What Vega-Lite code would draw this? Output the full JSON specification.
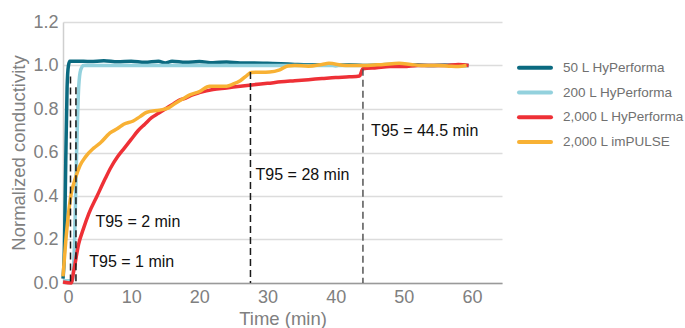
{
  "$schema": "https://vega.github.io/schema/vega-lite/v6.json",
  "width": 439,
  "height": 261,
  "autosize": {"type": "none"},
  "padding": {"left": 63, "top": 22, "right": 183, "bottom": 45},
  "background": "white",
  "config": {
    "font": "Liberation Sans",
    "view": {"stroke": null},
    "axis": {"labelFont": "Liberation Sans", "titleFont": "Liberation Sans", "labelColor": "#808080", "titleColor": "#808080", "labelFontSize": 18, "titleFontSize": 18.5, "titleFontWeight": "normal", "ticks": false}
  },
  "datasets": {
    "curves": [
      {"s": "50 L HyPerforma", "t": 0, "v": 0.02},
      {"s": "50 L HyPerforma", "t": 0.2, "v": 0.15},
      {"s": "50 L HyPerforma", "t": 0.4, "v": 0.55},
      {"s": "50 L HyPerforma", "t": 0.6, "v": 0.9},
      {"s": "50 L HyPerforma", "t": 0.8, "v": 1.0},
      {"s": "50 L HyPerforma", "t": 1.0, "v": 1.02},
      {"s": "50 L HyPerforma", "t": 2, "v": 1.02},
      {"s": "50 L HyPerforma", "t": 4, "v": 1.018},
      {"s": "50 L HyPerforma", "t": 6, "v": 1.022},
      {"s": "50 L HyPerforma", "t": 8, "v": 1.017},
      {"s": "50 L HyPerforma", "t": 10, "v": 1.02},
      {"s": "50 L HyPerforma", "t": 12, "v": 1.015},
      {"s": "50 L HyPerforma", "t": 14, "v": 1.02},
      {"s": "50 L HyPerforma", "t": 15, "v": 1.012},
      {"s": "50 L HyPerforma", "t": 16, "v": 1.02},
      {"s": "50 L HyPerforma", "t": 18, "v": 1.015},
      {"s": "50 L HyPerforma", "t": 20, "v": 1.018},
      {"s": "50 L HyPerforma", "t": 22, "v": 1.013},
      {"s": "50 L HyPerforma", "t": 24, "v": 1.016},
      {"s": "50 L HyPerforma", "t": 26, "v": 1.012},
      {"s": "50 L HyPerforma", "t": 28, "v": 1.012},
      {"s": "50 L HyPerforma", "t": 30, "v": 1.01},
      {"s": "50 L HyPerforma", "t": 32, "v": 1.008},
      {"s": "50 L HyPerforma", "t": 34, "v": 1.005},
      {"s": "50 L HyPerforma", "t": 36, "v": 1.003},
      {"s": "50 L HyPerforma", "t": 38, "v": 1.004},
      {"s": "50 L HyPerforma", "t": 40, "v": 1.0},
      {"s": "50 L HyPerforma", "t": 42, "v": 1.004},
      {"s": "50 L HyPerforma", "t": 44, "v": 1.0},
      {"s": "50 L HyPerforma", "t": 46, "v": 1.002},
      {"s": "50 L HyPerforma", "t": 48, "v": 1.005},
      {"s": "50 L HyPerforma", "t": 50, "v": 1.0},
      {"s": "50 L HyPerforma", "t": 52, "v": 1.003},
      {"s": "50 L HyPerforma", "t": 54, "v": 1.0},
      {"s": "50 L HyPerforma", "t": 56, "v": 1.002},
      {"s": "50 L HyPerforma", "t": 58, "v": 1.0},
      {"s": "50 L HyPerforma", "t": 59.5, "v": 1.0},
      {"s": "200 L HyPerforma", "t": 0, "v": 0.01},
      {"s": "200 L HyPerforma", "t": 1.4, "v": 0.01},
      {"s": "200 L HyPerforma", "t": 1.7, "v": 0.2},
      {"s": "200 L HyPerforma", "t": 2.0, "v": 0.6},
      {"s": "200 L HyPerforma", "t": 2.3, "v": 0.9},
      {"s": "200 L HyPerforma", "t": 2.6, "v": 0.98},
      {"s": "200 L HyPerforma", "t": 3, "v": 1.0},
      {"s": "200 L HyPerforma", "t": 10, "v": 1.0},
      {"s": "200 L HyPerforma", "t": 20, "v": 1.0},
      {"s": "200 L HyPerforma", "t": 30, "v": 1.0},
      {"s": "200 L HyPerforma", "t": 40, "v": 1.0},
      {"s": "200 L HyPerforma", "t": 50, "v": 1.0},
      {"s": "200 L HyPerforma", "t": 59.5, "v": 1.0},
      {"s": "2,000 L HyPerforma", "t": 0, "v": 0.005},
      {"s": "2,000 L HyPerforma", "t": 1.2, "v": 0.0},
      {"s": "2,000 L HyPerforma", "t": 1.6, "v": 0.06},
      {"s": "2,000 L HyPerforma", "t": 2.3, "v": 0.18},
      {"s": "2,000 L HyPerforma", "t": 3, "v": 0.25},
      {"s": "2,000 L HyPerforma", "t": 3.8, "v": 0.32},
      {"s": "2,000 L HyPerforma", "t": 5, "v": 0.4},
      {"s": "2,000 L HyPerforma", "t": 6.2, "v": 0.48},
      {"s": "2,000 L HyPerforma", "t": 7, "v": 0.53},
      {"s": "2,000 L HyPerforma", "t": 8, "v": 0.58},
      {"s": "2,000 L HyPerforma", "t": 9, "v": 0.62},
      {"s": "2,000 L HyPerforma", "t": 10, "v": 0.66},
      {"s": "2,000 L HyPerforma", "t": 11, "v": 0.7},
      {"s": "2,000 L HyPerforma", "t": 12, "v": 0.73},
      {"s": "2,000 L HyPerforma", "t": 13, "v": 0.76},
      {"s": "2,000 L HyPerforma", "t": 14, "v": 0.78},
      {"s": "2,000 L HyPerforma", "t": 15, "v": 0.8},
      {"s": "2,000 L HyPerforma", "t": 16, "v": 0.82},
      {"s": "2,000 L HyPerforma", "t": 17, "v": 0.84},
      {"s": "2,000 L HyPerforma", "t": 18, "v": 0.85},
      {"s": "2,000 L HyPerforma", "t": 19, "v": 0.865},
      {"s": "2,000 L HyPerforma", "t": 20, "v": 0.875},
      {"s": "2,000 L HyPerforma", "t": 22, "v": 0.89},
      {"s": "2,000 L HyPerforma", "t": 24, "v": 0.897},
      {"s": "2,000 L HyPerforma", "t": 26, "v": 0.905},
      {"s": "2,000 L HyPerforma", "t": 28, "v": 0.912},
      {"s": "2,000 L HyPerforma", "t": 30, "v": 0.918},
      {"s": "2,000 L HyPerforma", "t": 32, "v": 0.925},
      {"s": "2,000 L HyPerforma", "t": 34, "v": 0.93},
      {"s": "2,000 L HyPerforma", "t": 36, "v": 0.935},
      {"s": "2,000 L HyPerforma", "t": 38, "v": 0.94},
      {"s": "2,000 L HyPerforma", "t": 40, "v": 0.945},
      {"s": "2,000 L HyPerforma", "t": 42, "v": 0.948},
      {"s": "2,000 L HyPerforma", "t": 43.5, "v": 0.952},
      {"s": "2,000 L HyPerforma", "t": 44, "v": 0.985},
      {"s": "2,000 L HyPerforma", "t": 46, "v": 0.99},
      {"s": "2,000 L HyPerforma", "t": 48, "v": 0.995},
      {"s": "2,000 L HyPerforma", "t": 50, "v": 0.995},
      {"s": "2,000 L HyPerforma", "t": 52, "v": 1.0},
      {"s": "2,000 L HyPerforma", "t": 54, "v": 1.0},
      {"s": "2,000 L HyPerforma", "t": 56, "v": 1.0},
      {"s": "2,000 L HyPerforma", "t": 58, "v": 1.005},
      {"s": "2,000 L HyPerforma", "t": 59.5, "v": 1.0},
      {"s": "2,000 L imPULSE", "t": 0, "v": 0.03},
      {"s": "2,000 L imPULSE", "t": 0.4, "v": 0.19},
      {"s": "2,000 L imPULSE", "t": 0.85, "v": 0.33},
      {"s": "2,000 L imPULSE", "t": 1.2, "v": 0.41},
      {"s": "2,000 L imPULSE", "t": 1.8, "v": 0.48},
      {"s": "2,000 L imPULSE", "t": 2.5, "v": 0.54},
      {"s": "2,000 L imPULSE", "t": 3.3, "v": 0.58},
      {"s": "2,000 L imPULSE", "t": 4.5, "v": 0.62},
      {"s": "2,000 L imPULSE", "t": 5.5, "v": 0.645},
      {"s": "2,000 L imPULSE", "t": 6.9, "v": 0.69},
      {"s": "2,000 L imPULSE", "t": 8, "v": 0.71},
      {"s": "2,000 L imPULSE", "t": 8.9, "v": 0.73},
      {"s": "2,000 L imPULSE", "t": 10.3, "v": 0.745},
      {"s": "2,000 L imPULSE", "t": 11.3, "v": 0.765},
      {"s": "2,000 L imPULSE", "t": 12.3, "v": 0.785},
      {"s": "2,000 L imPULSE", "t": 14.2, "v": 0.795},
      {"s": "2,000 L imPULSE", "t": 15.5, "v": 0.805},
      {"s": "2,000 L imPULSE", "t": 16.2, "v": 0.82},
      {"s": "2,000 L imPULSE", "t": 17.5, "v": 0.845},
      {"s": "2,000 L imPULSE", "t": 18.6, "v": 0.865},
      {"s": "2,000 L imPULSE", "t": 20, "v": 0.88},
      {"s": "2,000 L imPULSE", "t": 21.5, "v": 0.905},
      {"s": "2,000 L imPULSE", "t": 23, "v": 0.905},
      {"s": "2,000 L imPULSE", "t": 24, "v": 0.905},
      {"s": "2,000 L imPULSE", "t": 25, "v": 0.915},
      {"s": "2,000 L imPULSE", "t": 26, "v": 0.93},
      {"s": "2,000 L imPULSE", "t": 27, "v": 0.955},
      {"s": "2,000 L imPULSE", "t": 27.6, "v": 0.968},
      {"s": "2,000 L imPULSE", "t": 30.3, "v": 0.97},
      {"s": "2,000 L imPULSE", "t": 31.8, "v": 0.98},
      {"s": "2,000 L imPULSE", "t": 33, "v": 0.998},
      {"s": "2,000 L imPULSE", "t": 34, "v": 1.0},
      {"s": "2,000 L imPULSE", "t": 36, "v": 0.997},
      {"s": "2,000 L imPULSE", "t": 38, "v": 1.005},
      {"s": "2,000 L imPULSE", "t": 39, "v": 1.01},
      {"s": "2,000 L imPULSE", "t": 41.5, "v": 1.0},
      {"s": "2,000 L imPULSE", "t": 44.4, "v": 1.0},
      {"s": "2,000 L imPULSE", "t": 47, "v": 1.005},
      {"s": "2,000 L imPULSE", "t": 49.3, "v": 1.01},
      {"s": "2,000 L imPULSE", "t": 51, "v": 1.005},
      {"s": "2,000 L imPULSE", "t": 52.6, "v": 1.0},
      {"s": "2,000 L imPULSE", "t": 55, "v": 1.0},
      {"s": "2,000 L imPULSE", "t": 56.6, "v": 0.997},
      {"s": "2,000 L imPULSE", "t": 58, "v": 0.995},
      {"s": "2,000 L imPULSE", "t": 59.2, "v": 1.0}
    ],
    "rules": [
      {"t": 1.1, "top": 0.95, "c": "dark"},
      {"t": 1.9, "top": 0.9, "c": "dark"},
      {"t": 27.5, "top": 0.97, "c": "dark"},
      {"t": 44, "top": 0.985, "c": "grey"}
    ],
    "labels": [
      {"t": 4.75, "v": 0.28, "label": "T95 = 2 min"},
      {"t": 3.85, "v": 0.097, "label": "T95 = 1 min"},
      {"t": 28.25, "v": 0.497, "label": "T95 = 28 min"},
      {"t": 45.2, "v": 0.7, "label": "T95 = 44.5 min"}
    ]
  },
  "layer": [
    {
      "data": {"name": "curves"},
      "mark": {"type": "line", "strokeWidth": 3.5, "interpolate": "monotone"},
      "encoding": {
        "x": {"field": "t", "type": "quantitative",
          "scale": {"domain": [0, 64.4], "nice": false, "zero": false},
          "axis": {"values": [0, 10, 20, 30, 40, 50, 60], "grid": false, "domainColor": "#9a9a9a", "domainWidth": 1.5, "labelPadding": 5, "title": "Time (min)", "titlePadding": 3}},
        "y": {"field": "v", "type": "quantitative",
          "scale": {"domain": [0, 1.2], "nice": false},
          "axis": {"values": [0, 0.2, 0.4, 0.6, 0.8, 1.0, 1.2], "format": ".1f", "grid": true, "gridColor": "#dcdcdc", "gridWidth": 1.5, "domainColor": "#cfcfcf", "domainWidth": 1.5, "labelPadding": 5, "title": "Normalized conductivity", "titlePadding": 4}},
        "color": {"field": "s", "type": "nominal",
          "scale": {"domain": ["50 L HyPerforma", "200 L HyPerforma", "2,000 L HyPerforma", "2,000 L imPULSE"], "range": ["#0b6a80", "#93d1dd", "#ee3036", "#f8b134"]},
          "legend": {"title": null, "orient": "none", "legendX": 462, "legendY": 35.7, "symbolType": "M-2,0H2", "symbolSize": 256, "symbolStrokeWidth": 4, "labelFontSize": 13.5, "labelColor": "#707070", "labelFont": "Liberation Sans", "labelOffset": 18, "rowPadding": 6.8,
            "encode": {"symbols": {"update": {"strokeCap": {"value": "round"}}}}}}
      }
    },
    {
      "data": {"name": "rules"},
      "mark": {"type": "rule", "strokeDash": [7, 4], "strokeWidth": 1.5},
      "encoding": {
        "x": {"field": "t", "type": "quantitative"},
        "y": {"field": "top", "type": "quantitative"},
        "y2": {"datum": 0},
        "color": {"field": "c", "type": "nominal", "scale": {"domain": ["dark", "grey"], "range": ["#1a1a1a", "#555555"]}, "legend": null}
      }
    },
    {
      "data": {"name": "labels"},
      "mark": {"type": "text", "align": "left", "baseline": "middle", "fontSize": 16, "font": "Liberation Sans", "color": "#111111"},
      "encoding": {
        "x": {"field": "t", "type": "quantitative"},
        "y": {"field": "v", "type": "quantitative"},
        "text": {"field": "label"}
      }
    }
  ],
  "resolve": {"scale": {"color": "independent"}}
}
